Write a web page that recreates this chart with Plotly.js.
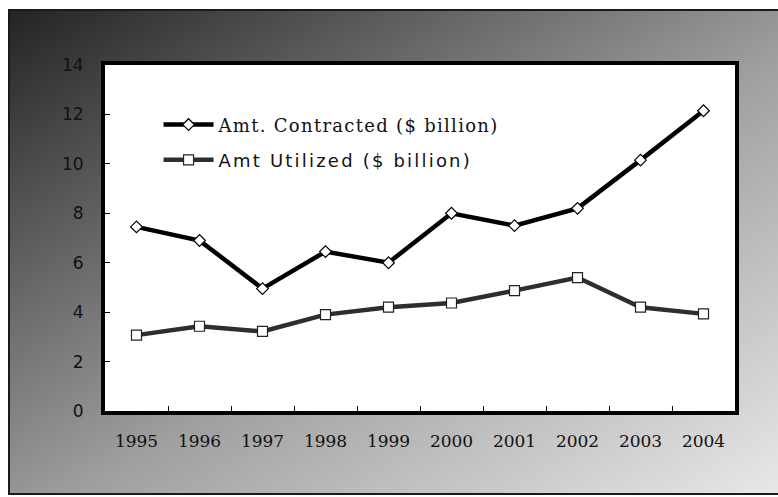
<!DOCTYPE html>
<html>
<head>
<meta charset="utf-8">
<script src="https://cdn.plot.ly/plotly-3.0.1.min.js"></script>
<style>
  html, body { margin: 0; padding: 0; background: #ffffff; }
  #frame {
    position: absolute; left: 8px; top: 9px; width: 772px; height: 482px;
    border-top: 2px solid #1a1a1a; border-left: 2px solid #1a1a1a; border-bottom: 2px solid #1a1a1a;
    background: linear-gradient(to bottom right, #242424 0%, #a0a0a0 55%, #e8e8e8 100%);
  }
  #chart { position: absolute; left: 0; top: 0; width: 778px; height: 497px; }
</style>
</head>
<body>
<div id="frame"></div>
<div id="chart"></div>
<script>
const years = ['1995','1996','1997','1998','1999','2000','2001','2002','2003','2004'];
const contracted = [7.45, 6.9, 4.95, 6.45, 6.0, 8.0, 7.5, 8.2, 10.15, 12.15];
const utilized = [3.07, 3.43, 3.22, 3.9, 4.2, 4.37, 4.87, 5.4, 4.2, 3.93];
const contractedName = 'Amt. Contracted ($ billion)';
const utilizedName = 'Amt Utilized ($ billion)';

const traces = [
  {
    x: years, y: contracted, type: 'scatter', mode: 'lines+markers',
    name: '<span style="letter-spacing:1.3px">' + contractedName + '</span>', legend: 'legend',
    line: { color: '#000000', width: 4.5 },
    marker: { symbol: 'diamond', size: 9, color: '#ffffff', line: { color: '#000000', width: 1.2 } }
  },
  {
    x: years, y: utilized, type: 'scatter', mode: 'lines+markers',
    name: '<span style="letter-spacing:2.2px">' + utilizedName + '</span>', legend: 'legend2',
    line: { color: '#2e2e2e', width: 4.5 },
    marker: { symbol: 'square', size: 10, color: '#ffffff', line: { color: '#222222', width: 1.2 } }
  }
];

const layout = {
  width: 778, height: 497,
  margin: { l: 105, r: 43, t: 65, b: 86 },
  paper_bgcolor: 'rgba(0,0,0,0)',
  plot_bgcolor: '#ffffff',
  showlegend: true,
  xaxis: {
    type: 'category', range: [-0.5, 9.5],
    showline: true, linecolor: '#000000', linewidth: 4, mirror: true,
    ticks: 'inside', tickson: 'boundaries', ticklen: 5, tickcolor: '#000000', tickwidth: 1,
    showgrid: false, zeroline: false,
    ticklabelstandoff: 12,
    tickfont: { family: 'DejaVu Serif', size: 17, color: '#111111' }
  },
  yaxis: {
    range: [0, 14], dtick: 2, tick0: 0,
    showline: true, linecolor: '#000000', linewidth: 4, mirror: true,
    ticks: 'inside', ticklen: 5, tickcolor: '#000000', tickwidth: 1,
    showgrid: false, zeroline: false,
    ticklabelstandoff: 14,
    tickfont: { family: 'DejaVu Sans', size: 17, color: '#111111' }
  },
  legend: {
    x: 0.085, y: 0.827, xanchor: 'left', yanchor: 'middle',
    bgcolor: 'rgba(0,0,0,0)', borderwidth: 0, itemwidth: 50,
    font: { family: 'DejaVu Serif', size: 18, color: '#111111' }
  },
  legend2: {
    x: 0.085, y: 0.725, xanchor: 'left', yanchor: 'middle',
    bgcolor: 'rgba(0,0,0,0)', borderwidth: 0, itemwidth: 50,
    font: { family: 'DejaVu Sans', size: 18, color: '#111111' }
  }
};

Plotly.newPlot('chart', traces, layout, { displayModeBar: false, staticPlot: true });
</script>
</body>
</html>
